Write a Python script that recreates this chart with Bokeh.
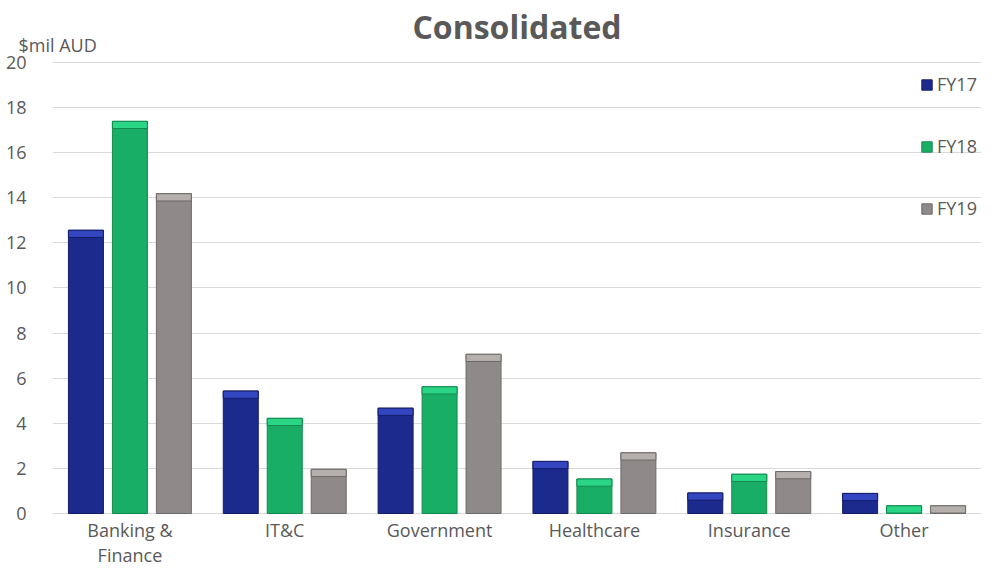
from bokeh.plotting import figure
from bokeh.models import ColumnDataSource, Legend, LegendItem, Title, FactorRange, Range1d
from bokeh.transform import dodge
from bokeh.core.properties import value
from bokeh.embed import file_html
from bokeh.resources import INLINE

categories = ["Banking &\nFinance", "IT&C", "Government", "Healthcare", "Insurance", "Other"]
series = ["FY17", "FY18", "FY19"]
fy17 = [12.56, 5.43, 4.67, 2.31, 0.91, 0.89]
fy18 = [17.39, 4.22, 5.62, 1.53, 1.74, 0.34]
fy19 = [14.18, 1.96, 7.06, 2.69, 1.86, 0.34]
y_ticks = [0, 2, 4, 6, 8, 10, 12, 14, 16, 18, 20]

base_colors = ["#1C2A8E", "#19AE66", "#8F8A89"]
cap_colors = ["#3445C0", "#2AD585", "#B5AFAD"]
edge_colors = ["#141E6A", "#128A4F", "#6E6A69"]

FONT = "Open Sans"
TXT = "#595959"

src = ColumnDataSource(dict(cat=categories, FY17=fy17, FY18=fy18, FY19=fy19,
                            FY17_cap=[max(v - 0.32, 0) for v in fy17],
                            FY18_cap=[max(v - 0.32, 0) for v in fy18],
                            FY19_cap=[max(v - 0.32, 0) for v in fy19]))

p = figure(x_range=FactorRange(*categories), y_range=Range1d(-2.439, 20.266),
           width=981, height=568, output_backend="svg", toolbar_location=None,
           min_border_left=52, min_border_right=0, min_border_top=56, min_border_bottom=0)

p.title.text = "Consolidated"
p.title.align = "center"
p.title.text_font = FONT
p.title.text_font_size = "32px"
p.title.text_font_style = "bold"
p.title.text_color = TXT
p.title.text_line_height = 1.0
p.title.offset = 0
p.title.standoff = -34

unit = Title(text="$mil AUD", align="left", offset=-34, text_font=FONT,
             text_font_size="18px", text_font_style="normal", text_color=TXT,
             text_line_height=1.0, standoff=0)
p.add_layout(unit, "above")

offsets = [-0.284, 0.0, 0.284]
width = 0.226
items = []
for i, s in enumerate(series):
    r = p.vbar(x=dodge("cat", offsets[i], range=p.x_range), top=s, bottom=0, width=width,
               source=src, fill_color=base_colors[i], line_color=edge_colors[i], line_width=1)
    p.vbar(x=dodge("cat", offsets[i], range=p.x_range), top=s, bottom=s + "_cap", width=width,
           source=src, fill_color=cap_colors[i], line_color=edge_colors[i], line_width=1)
    items.append(LegendItem(label=s, renderers=[r]))

p.text(x="cat", y=0, text="cat", source=src, text_align="center", text_baseline="top",
       y_offset=4, text_font=value(FONT), text_font_size="18px", text_color=TXT,
       text_line_height=1.08)

legend = Legend(items=items, location=(868, 348), orientation="vertical")
legend.label_text_font = FONT
legend.label_text_font_size = "18px"
legend.label_text_color = TXT
legend.glyph_width = 13
legend.glyph_height = 13
legend.label_height = 20
legend.spacing = 38
legend.label_standoff = 4
legend.padding = 0
legend.margin = 0
legend.border_line_alpha = 0
legend.background_fill_alpha = 0
p.add_layout(legend)

p.xaxis.visible = False
p.xgrid.grid_line_color = None
p.ygrid.grid_line_color = "#D9D9D9"
p.ygrid.grid_line_width = 1
p.yaxis.ticker = y_ticks
p.yaxis.axis_line_color = None
p.yaxis.major_tick_line_color = None
p.yaxis.minor_tick_line_color = None
p.yaxis.major_label_text_font = FONT
p.yaxis.major_label_text_font_size = "18px"
p.yaxis.major_label_text_color = TXT
p.yaxis.major_label_standoff = 20
p.x_range.range_padding = 0

p.outline_line_color = None
p.background_fill_color = "white"

open("out.html", "w").write(file_html(p, INLINE))
